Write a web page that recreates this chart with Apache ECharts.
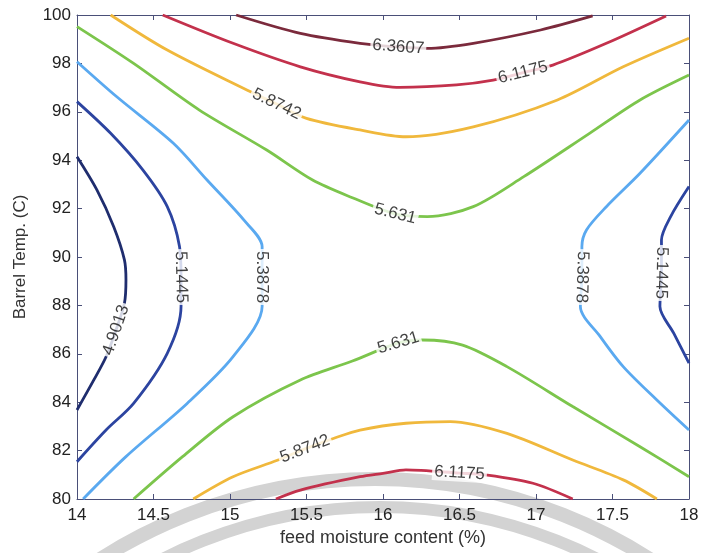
<!DOCTYPE html>
<html>
<head>
<meta charset="utf-8">
<script src="https://cdn.jsdelivr.net/npm/echarts@6/dist/echarts.min.js"></script>
<style>
html,body{margin:0;padding:0;background:#fff;}
#c{width:702px;height:553px;}
</style>
</head>
<body>
<div id="c"></div>
<script>
// Contour levels (labels)
const levels = ['4.9013','5.1445','5.3878','5.631','5.8742','6.1175','6.3607'];
const levelColors = ['#1f2d6e','#2c44a0','#5aa9f0','#7cc54c','#f0b83c','#c3314c','#7b2a3c'];

// Contour lines: [feed moisture, barrel temp]
const c4901L = [[14.0,94.14],[14.13,92.77],[14.24,91.25],[14.31,89.88],[14.32,89.05],[14.31,88.09],[14.255,86.98],[14.19,85.88],[14.11,84.92],[14.0,83.68]];
const c5145L = [[14.0,96.42],[14.22,95.11],[14.43,93.6],[14.59,92.08],[14.67,90.43],[14.68,89.17],[14.68,87.95],[14.59,86.02],[14.37,83.95],[14.19,82.85],[14.0,81.54]];
const c5388L = [[14.0,98.07],[14.26,96.62],[14.63,94.7],[14.85,93.18],[15.09,91.53],[15.21,90.43],[15.21,89.17],[15.21,87.95],[15.02,85.88],[14.72,83.95],[14.32,81.75],[14.04,80.0]];
const c5631T = [[14.0,99.52],[14.37,98.0],[14.8,96.07],[15.24,94.42],[15.54,93.18],[15.8,92.45],[16.08,91.78],[16.29,91.67],[16.59,92.08],[16.92,93.32],[17.35,95.11],[17.68,96.49],[18.0,97.52]];
const c5874T = [[14.22,100],[14.59,98.55],[15.11,96.9],[15.305,96.32],[15.5,95.73],[15.85,95.25],[16.15,94.97],[16.59,95.38],[17.14,96.49],[17.57,97.86],[18.0,99.04]];
const c6118T = [[14.56,100],[15.02,98.83],[15.46,97.86],[15.85,97.24],[16.11,97.01],[16.48,97.11],[16.72,97.31],[16.915,97.62],[17.11,97.93],[17.46,98.83],[17.85,99.96]];
const c6361T = [[15.04,100],[15.46,99.24],[15.85,98.83],[16.1,98.68],[16.29,98.62],[16.59,98.83],[17.03,99.38],[17.37,99.96]];
const c5388R = [[18.0,95.66],[17.68,93.46],[17.46,92.08],[17.33,91.12],[17.3,90.43],[17.3,89.17],[17.29,87.95],[17.42,86.71],[17.57,85.47],[17.79,84.09],[18.0,82.85]];
const c5145R = [[18.0,92.91],[17.88,91.67],[17.82,90.7],[17.82,89.34],[17.81,87.95],[17.9,86.85],[18.0,85.61]];
const c5631B = [[14.37,80.0],[14.69,81.75],[15.02,83.4],[15.46,84.92],[15.8,85.7],[16.1,86.45],[16.26,86.57],[16.52,86.36],[16.81,85.47],[17.24,83.82],[17.68,82.16],[18.0,80.92]];
const c5874B = [[14.76,80.0],[15.02,80.92],[15.31,81.6],[15.49,82.07],[15.68,82.51],[15.85,82.85],[16.15,83.13],[16.44,83.2],[16.81,82.71],[17.24,81.61],[17.57,80.79],[17.79,80.0]];
const c6118B = [[15.3,80.0],[15.46,80.37],[15.85,80.92],[16.0,81.06],[16.15,81.2],[16.5,81.07],[16.68,80.99],[16.98,80.65],[17.24,80.0]];

// which level each line belongs to
const lines = [
  {d:c4901L,lv:0},{d:c5145L,lv:1},{d:c5388L,lv:2},{d:c5631T,lv:3},{d:c5874T,lv:4},{d:c6118T,lv:5},{d:c6361T,lv:6},
  {d:c5388R,lv:2},{d:c5145R,lv:1},{d:c5631B,lv:3},{d:c5874B,lv:4},{d:c6118B,lv:5}
];
// contour label positions, one per line above
const labelPts = [
  [14.255,86.98],[14.68,89.17],[15.21,89.17],[16.08,91.78],[15.305,96.32],[16.915,97.62],[16.1,98.68],
  [17.3,89.17],[17.82,89.34],[16.1,86.45],[15.49,82.07],[16.5,81.07]
];

const xRange = [14, 18];
const yRange = [80, 100];
const font = '"Liberation Sans", Arial, Helvetica, sans-serif';
const axisColor = '#4a4f78';

const chart = echarts.init(document.getElementById('c'), null, {renderer:'canvas'});

const lineSeries = lines.map(l => ({
  type:'line', data:l.d, showSymbol:false, symbol:'none', smooth:0.3,
  lineStyle:{color:levelColors[l.lv], width:2.8}, z:3, silent:true, animation:false
}));

const base = {
  animation:false,
  backgroundColor:'#fff',
  textStyle:{fontFamily:font},
  grid:{left:77, right:13, top:15, bottom:54, containLabel:false},
  graphic:{elements:[
    {type:'circle', z:-10, shape:{cx:375, cy:990, r:511}, style:{fill:null, stroke:'#d3d3d3', lineWidth:14}},
    {type:'circle', z:-10, shape:{cx:380, cy:987, r:480}, style:{fill:null, stroke:'#d3d3d3', lineWidth:12}}
  ]},
  xAxis:[
    {type:'value', min:xRange[0], max:xRange[1], interval:0.5, position:'bottom',
     name:'feed moisture content (%)', nameLocation:'middle', nameGap:30,
     nameTextStyle:{fontSize:18, color:'#333', fontFamily:font},
     axisLine:{show:true, lineStyle:{color:axisColor}}, axisTick:{inside:true, length:5, lineStyle:{color:axisColor}},
     axisLabel:{fontSize:17, color:'#222', margin:8, fontFamily:font}, splitLine:{show:false}},
    {type:'value', min:xRange[0], max:xRange[1], interval:0.5, position:'top',
     axisLine:{show:true, lineStyle:{color:axisColor}}, axisTick:{inside:true, length:5, lineStyle:{color:axisColor}},
     axisLabel:{show:false}, splitLine:{show:false}}
  ],
  yAxis:[
    {type:'value', min:yRange[0], max:yRange[1], interval:2, position:'left',
     name:'Barrel Temp. (C)', nameLocation:'middle', nameGap:48,
     nameTextStyle:{fontSize:17, color:'#333', fontFamily:font},
     axisLine:{show:true, lineStyle:{color:axisColor}}, axisTick:{inside:true, length:5, lineStyle:{color:axisColor}},
     axisLabel:{fontSize:17, color:'#222', margin:6, fontFamily:font}, splitLine:{show:false}},
    {type:'value', min:yRange[0], max:yRange[1], interval:2, position:'right',
     axisLine:{show:true, lineStyle:{color:axisColor}}, axisTick:{inside:true, length:5, lineStyle:{color:axisColor}},
     axisLabel:{show:false}, splitLine:{show:false}}
  ],
  series: lineSeries
};
chart.setOption(base);

// compute label rotations from the contour direction at each label point
const labelData = labelPts.map((p, i) => {
  const l = lines[i];
  let best = 0, bd = Infinity;
  l.d.forEach((q, k) => { const dd = (q[0]-p[0])**2 + ((q[1]-p[1])/5)**2; if (dd < bd) { bd = dd; best = k; } });
  const a0 = l.d[Math.max(0, best-1)], a1 = l.d[Math.min(l.d.length-1, best+1)];
  const p0 = chart.convertToPixel({gridIndex:0}, a0), p1 = chart.convertToPixel({gridIndex:0}, a1);
  let ang = -Math.atan2(p1[1]-p0[1], p1[0]-p0[0]) * 180 / Math.PI;
  while (ang > 85) ang -= 180;
  while (ang <= -95) ang += 180;
  return {value:[p[0], p[1]], name:levels[l.lv], label:{rotate:ang}};
});

chart.setOption({series: lineSeries.concat([{
  type:'scatter', data:labelData, symbolSize:1, itemStyle:{color:'rgba(0,0,0,0)'}, z:10, silent:true, animation:false,
  label:{show:true, position:'inside', formatter:p => p.name, fontSize:17, color:'#111', fontFamily:font,
         backgroundColor:'#ffffff', padding:[0,2]}
}])});
</script>
</body>
</html>
